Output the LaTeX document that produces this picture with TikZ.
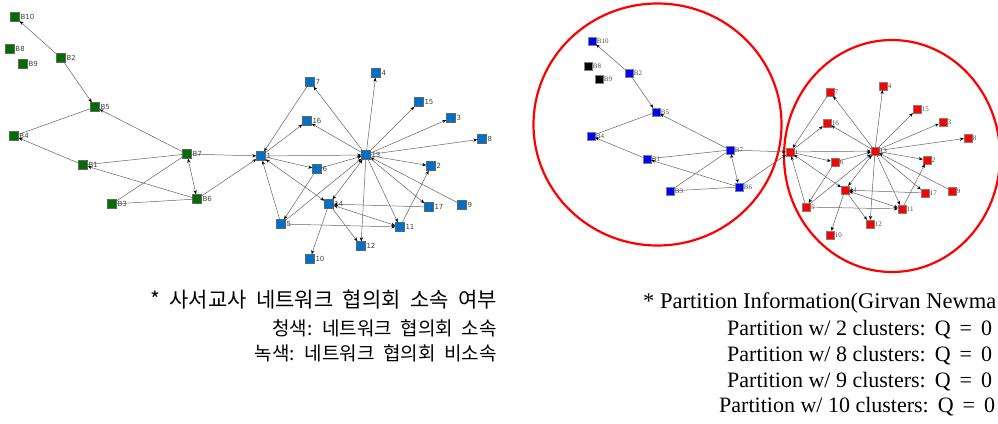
\documentclass[tikz,border=0pt]{standalone}
\usepackage{fontspec}
\usetikzlibrary{arrows.meta}
\newfontfamily\kr[WordSpace=2]{Noto Sans CJK KR}
\newfontfamily\lser{Liberation Serif}
\newfontfamily\lsans{DejaVu Sans}
\definecolor{gfill}{RGB}{0,110,0}
\definecolor{bfill}{RGB}{0,112,200}
\definecolor{pblue}{RGB}{0,0,255}
\definecolor{pred}{RGB}{255,0,0}
\definecolor{edgegray}{RGB}{100,100,100}
\newcommand{\gedges}[1]{%
 \draw[ed,->] (#1B2) -- (#1B10);
 \draw[ed,->] (#1B2) -- (#1B5);
 \draw[ed] (#1B4) -- (#1B5);
 \draw[ed,->] (#1B7) -- (#1B5);
 \draw[ed,->] (#1B1) -- (#1B4);
 \draw[ed] (#1B1) -- (#1B7);
 \draw[ed,->] (#1B6) -- (#1B1);
 \draw[ed] (#1B3) -- (#1B7);
 \draw[ed] (#1B3) -- (#1B6);
 \draw[ed,<->] (#1B7) -- (#1B6);
 \draw[ed,->] (#1B7) -- (#11);
 \draw[ed,->] (#1B6) -- (#11);
 \draw[ed,->] (#17) -- (#11);
 \draw[ed,->] (#11) -- (#116);
 \draw[ed,->] (#11) -- (#113);
 \draw[ed,->] (#11) -- (#16);
 \draw[ed,<->] (#11) -- (#114);
 \draw[ed,->] (#15) -- (#11);
 \draw[ed,->] (#16) -- (#15);
 \draw[ed,->] (#16) -- (#113);
 \draw[ed,->] (#15) -- (#113);
 \draw[ed,->] (#15) -- (#111);
 \draw[ed,<->] (#114) -- (#113);
 \draw[ed,<->] (#114) -- (#111);
 \draw[ed,->] (#117) -- (#114);
 \draw[ed,->] (#114) -- (#112);
 \draw[ed,->] (#114) -- (#110);
 \draw[ed,->] (#113) -- (#17);
 \draw[ed,->] (#113) -- (#116);
 \draw[ed,->] (#113) -- (#14);
 \draw[ed,->] (#113) -- (#115);
 \draw[ed,->] (#113) -- (#13);
 \draw[ed,->] (#113) -- (#18);
 \draw[ed,->] (#113) -- (#12);
 \draw[ed,->] (#113) -- (#117);
 \draw[ed,->] (#19) -- (#113);
 \draw[ed,->] (#113) -- (#111);
 \draw[ed,->] (#113) -- (#112);
 \draw[ed,->] (#111) -- (#12);
}
\newcommand{\qsp}{\hspace{9pt}}
\begin{document}
\begin{tikzpicture}[x=1pt,y=-1pt,
  ed/.style={draw=edgegray, line width=0.5pt, >={Stealth[length=4pt,width=3.2pt,color=black]}},
  lnode/.style={draw=black!60, minimum size=9pt, inner sep=0pt, line width=0.4pt},
  rnode/.style={draw=black!50, minimum size=8pt, inner sep=0pt, line width=0.3pt},
  llab/.style={font=\lsans\fontsize{7}{8}\selectfont, text=black!75, inner sep=0.6pt, label distance=0pt},
  rlab/.style={font=\lser\fontsize{7}{8}\selectfont, text=black!70, inner sep=0.6pt, label distance=0pt},
  circ/.style={draw=pred, line width=2.2pt},
  krt/.style={font=\kr, inner sep=0pt, anchor=east},
  ent/.style={font=\lser\fontsize{22}{25}\selectfont, inner sep=0pt, anchor=west}
]
\useasboundingbox (0,0) rectangle (998,423);
% ---------- left graph ----------
\foreach \n/\x/\y in {B10/15/17, B8/10/49, B9/23/64, B2/61/58, B5/95/107, B4/14/136, B1/83/165, B7/187/154, B3/112/204, B6/197/199}
  \node[lnode, fill=gfill, label={[llab]right:\n}] (L\n) at (\x,\y) {};
\foreach \n/\x/\y in {1/261/156, 7/310/82, 16/307/121, 4/376/73, 15/419/102, 3/451/118, 8/482/139, 13/366/155, 6/317/169, 2/431/166, 14/329/204, 17/429/207, 9/462/205, 5/281/224, 11/400/227, 12/361/246, 10/310/259}
  \node[lnode, fill=bfill, label={[llab]right:\n}] (L\n) at (\x,\y) {};
\gedges{L}
% ---------- right graph ----------
\draw[circ] (657.5,124.5) ellipse [x radius=124, y radius=121];
\draw[circ] (892,156) ellipse [x radius=108, y radius=116];
\foreach \n/\x/\y in {B10/592/41, B2/629/73, B5/656/112, B4/591/136, B1/647/159, B7/730/150, B3/670/191, B6/739/187}
  \node[rnode, fill=pblue, label={[rlab]right:\n}] (R\n) at (\x,\y) {};
\foreach \n/\x/\y in {B8/588/66, B9/599/79}
  \node[rnode, fill=black, label={[rlab]right:\n}] (R\n) at (\x,\y) {};
\foreach \n/\x/\y in {1/790/152, 7/830/92, 16/827/123, 4/883/86, 15/917/109, 3/943/122, 8/968/138, 13/875/151, 6/835/162, 2/927/160, 14/845/190, 17/925/193, 9/952/191, 5/806/207, 11/902/209, 12/870/224, 10/830/235}
  \node[rnode, fill=pred, label={[rlab]right:\n}] (R\n) at (\x,\y) {};
\gedges{R}
% ---------- captions ----------
\node[krt, font=\kr\fontsize{21}{24}\selectfont] (k1) at (497,300) {* 사서교사 네트워크 협의회 소속 여부};
\node[krt, font=\kr\fontsize{19}{21}\selectfont] (k2) at (497,328) {청색: 네트워크 협의회 소속};
\node[krt, font=\kr\fontsize{19}{21}\selectfont] (k3) at (497,353) {녹색: 네트워크 협의회 비소속};
\node[ent, font=\lser\fontsize{22.5}{25}\selectfont] (p0) at (643,303) {* Partition Information(Girvan Newma};
\node[ent] (p1) at (727,330) {Partition w/ 2 clusters:\qsp Q\qsp =\qsp 0};
\node[ent] (p2) at (727,356) {Partition w/ 8 clusters:\qsp Q\qsp =\qsp 0};
\node[ent] (p3) at (727,382) {Partition w/ 9 clusters:\qsp Q\qsp =\qsp 0};
\node[ent] (p4) at (719,407) {Partition w/ 10 clusters:\qsp Q\qsp =\qsp 0};
\end{tikzpicture}
\end{document}
